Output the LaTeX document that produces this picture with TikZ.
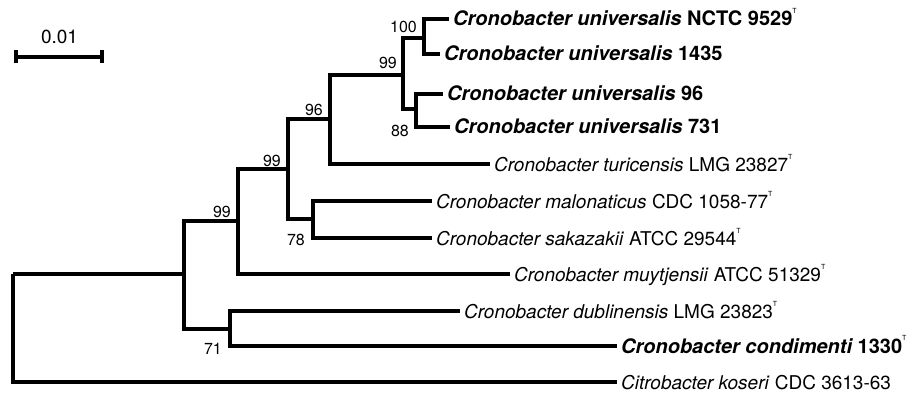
\documentclass[tikz,border=0pt]{standalone}
\usepackage{fontspec}
\setmainfont{TeX Gyre Heros}
% small raised "T" marking type strains
\newcommand{\typestrain}{\raisebox{0.62em}{\fontsize{7}{8}\selectfont\mdseries\upshape T}}
\begin{document}
\begin{tikzpicture}[x=1pt,y=-1pt,
  branch/.style={line width=3.4pt, line join=miter, line cap=butt},
  leaf/.style={anchor=base west, inner sep=0pt, xshift=4pt, yshift=-7pt,
    font=\fontsize{19}{22}\selectfont},
  boldleaf/.style={leaf, font=\fontsize{20}{22}\selectfont\bfseries},
  boot/.style={anchor=base east, inner sep=0pt, font=\fontsize{16}{18}\selectfont}]
\useasboundingbox (0,0) rectangle (922,396);

% internal nodes (x = node depth, y = where the parent branch meets it)
\coordinate (root) at (13,274);
\coordinate (nA)   at (184,274);
\coordinate (n99c) at (238,221);
\coordinate (n71)  at (230,329);
\coordinate (n99b) at (288,169);
\coordinate (n96)  at (330,119);
\coordinate (n78)  at (313,219);
\coordinate (n99a) at (403,75);
\coordinate (n100) at (424,38);
\coordinate (n88)  at (416,109);

% tips
\coordinate (t1)  at (449,19);
\coordinate (t2)  at (440,54);
\coordinate (t3)  at (443,94);
\coordinate (t4)  at (450,127);
\coordinate (t5)  at (490,164);
\coordinate (t6)  at (432,201);
\coordinate (t7)  at (432,238);
\coordinate (t8)  at (510,274);
\coordinate (t9)  at (460,311);
\coordinate (t10) at (617,346);
\coordinate (t11) at (617,382);

% branches
\draw[branch] (root) |- (nA);
\draw[branch] (root) |- (t11);
\draw[branch] (nA) |- (n99c);
\draw[branch] (nA) |- (n71);
\draw[branch] (n99c) |- (n99b);
\draw[branch] (n99c) |- (t8);
\draw[branch] (n99b) |- (n96);
\draw[branch] (n99b) |- (n78);
\draw[branch] (n96) |- (n99a);
\draw[branch] (n96) |- (t5);
\draw[branch] (n99a) |- (n100);
\draw[branch] (n99a) |- (n88);
\draw[branch] (n100) |- (t1);
\draw[branch] (n100) |- (t2);
\draw[branch] (n88) |- (t3);
\draw[branch] (n88) |- (t4);
\draw[branch] (n78) |- (t6);
\draw[branch] (n78) |- (t7);
\draw[branch] (n71) |- (t9);
\draw[branch] (n71) |- (t10);

% tip labels
\node[boldleaf] (l1)  at (t1)  {\itshape Cronobacter universalis \upshape NCTC 9529\typestrain};
\node[boldleaf] (l2)  at (t2)  {\itshape Cronobacter universalis \upshape 1435};
\node[boldleaf] (l3)  at (t3)  {\itshape Cronobacter universalis \upshape 96};
\node[boldleaf] (l4)  at (t4)  {\itshape Cronobacter universalis \upshape 731};
\node[leaf] (l5)  at (t5)  {\textit{Cronobacter turicensis} LMG 23827\typestrain};
\node[leaf] (l6)  at (t6)  {\textit{Cronobacter malonaticus} CDC 1058-77\typestrain};
\node[leaf] (l7)  at (t7)  {\textit{Cronobacter sakazakii} ATCC 29544\typestrain};
\node[leaf] (l8)  at (t8)  {\textit{Cronobacter muytjensii} ATCC 51329\typestrain};
\node[leaf] (l9)  at (t9)  {\textit{Cronobacter dublinensis} LMG 23823\typestrain};
\node[boldleaf] (l10) at (t10) {\itshape Cronobacter condimenti \upshape 1330\typestrain};
\node[leaf] (l11) at (t11) {\textit{Citrobacter koseri} CDC 3613-63};

% bootstrap values
\node[boot] (b100) at (417,33)  {100};
\node[boot] (b99a) at (397,69)  {99};
\node[boot] (b88)  at (409,136) {88};
\node[boot] (b96)  at (323,116) {96};
\node[boot] (b99b) at (281,166) {99};
\node[boot] (b78)  at (305,245) {78};
\node[boot] (b99c) at (231,217) {99};
\node[boot] (b71)  at (222,354) {71};

% scale bar
\coordinate (s0) at (16,57);
\coordinate (s1) at (102,57);
\draw[branch] (s0) -- (s1);
\draw[line width=3.4pt] ([yshift=-6.5pt]s0) -- ([yshift=6.5pt]s0);
\draw[line width=3.4pt] ([yshift=-6.5pt]s1) -- ([yshift=6.5pt]s1);
\node[anchor=base, inner sep=0pt, font=\fontsize{19}{22}\selectfont] (scl) at (59.5,44) {0.01};
\end{tikzpicture}
\end{document}
